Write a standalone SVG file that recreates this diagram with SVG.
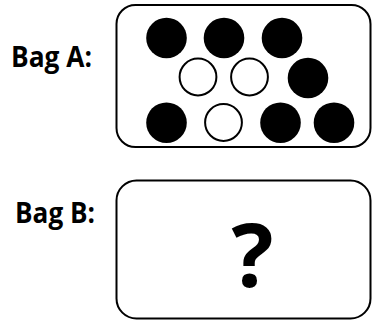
<svg xmlns="http://www.w3.org/2000/svg" width="372" height="322" viewBox="0 0 372 322">
<style>
.bag{fill:#fff;stroke:#000;stroke-width:2}
.lbl{font-family:"Open Sans","Liberation Sans",sans-serif;font-weight:bold;font-size:28.5px;fill:#000}
.b{fill:#000}
.w{fill:#fff;stroke:#000;stroke-width:2}
</style>
<rect width="372" height="322" fill="#fff"/>
<g id="bagA">
<text class="lbl" x="11" y="67" textLength="81" lengthAdjust="spacingAndGlyphs">Bag A:</text>
<rect class="bag" x="116.5" y="5" width="254" height="142" rx="19"/>
<circle class="b" cx="166.5" cy="38" r="20.3"/>
<circle class="b" cx="224" cy="38" r="20.3"/>
<circle class="b" cx="282" cy="38" r="20.3"/>
<circle class="w" cx="198" cy="77" r="18.4"/>
<circle class="w" cx="249.5" cy="77" r="18.4"/>
<circle class="b" cx="308" cy="78" r="20.3"/>
<circle class="b" cx="166.5" cy="122.7" r="20.3"/>
<circle class="w" cx="223.5" cy="122.5" r="18.4"/>
<circle class="b" cx="280.5" cy="122.7" r="20.3"/>
<circle class="b" cx="334" cy="122.7" r="20.3"/>
</g>
<g id="bagB">
<text class="lbl" x="15" y="223" textLength="80" lengthAdjust="spacingAndGlyphs">Bag B:</text>
<rect class="bag" x="116.5" y="180.5" width="254" height="138" rx="20"/>
<text class="lbl" x="252.5" y="287" text-anchor="middle" style="font-size:88px">?</text>
</g>
<g id="connectors"/>
</svg>
